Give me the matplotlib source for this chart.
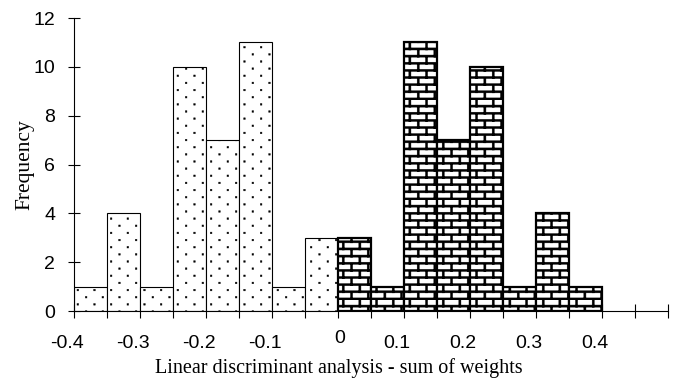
#!/usr/bin/env python3
"""Histogram of the LDA sum of weights, dotted (negative) vs brick (positive) groups."""

import matplotlib
matplotlib.use("Agg")
import matplotlib.hatch as mhatch
import matplotlib.pyplot as plt
from matplotlib.path import Path as MPath
from matplotlib.transforms import ScaledTranslation


BIN_WIDTH = 0.05
NEG_BINS = [-0.40, -0.35, -0.30, -0.25, -0.20, -0.15, -0.10, -0.05]
NEG_FREQ = [1, 4, 1, 10, 7, 11, 1, 3]
POS_BINS = [0.00, 0.05, 0.10, 0.15, 0.20, 0.25, 0.30, 0.35]
POS_FREQ = [3, 1, 11, 7, 10, 1, 4, 1]

X_LABEL_POS = [-0.4, -0.3, -0.2, -0.1, 0.0, 0.1, 0.2, 0.3, 0.4]
X_LABELS = ["-0.4", "-0.3", "-0.2", "-0.1", "0", "0.1", "0.2", "0.3", "0.4"]
X_MINOR = [-0.35, -0.25, -0.15, -0.05, 0.05, 0.15, 0.25, 0.35, 0.45, 0.5]
Y_TICKS = [0, 2, 4, 6, 8, 10, 12]

SANS = ["Liberation Sans", "DejaVu Sans"]
SERIF = ["Liberation Serif", "DejaVu Serif"]


# custom hatches: '.' -> staggered sparse dots, '+' -> brick wall
def rect_path(x, y, w, h):
  return [(x, y), (x + w, y), (x + w, y + h), (x, y + h), (x, y)]


RECT_CODES = [MPath.MOVETO, MPath.LINETO, MPath.LINETO, MPath.LINETO, MPath.CLOSEPOLY]


class RectHatch(mhatch.HatchPatternBase):
  char = ""

  def __init__(self, hatch, density):
    self.rects = self.make_rects() if self.char in hatch else []
    self.num_vertices = 5 * len(self.rects)

  def make_rects(self):
    return []

  def set_vertices_and_codes(self, vertices, codes):
    for i, rect in enumerate(self.rects):
      vertices[5 * i:5 * i + 5] = rect_path(*rect)
      codes[5 * i:5 * i + 5] = RECT_CODES


class DotHatch(RectHatch):
  char = "."

  def make_rects(self):
    rows, cols, s = 14, 6, 0.016
    out = []
    for r in range(rows):
      shift = 0.0 if r % 2 == 0 else 0.5 / cols
      for c in range(cols):
        out.append((c / cols + shift + 0.02, r / rows + 0.02, s, s))
    return out


class BrickHatch(RectHatch):
  char = "+"

  def make_rects(self):
    rows, cols, t = 14, 6, 0.021
    out = []
    for r in range(rows):
      y0 = r / rows
      out.append((0.0, y0, 1.0, t))
      shift = 0.0 if r % 2 == 0 else 0.5 / cols
      for c in range(cols):
        out.append((c / cols + shift + 0.005, y0, t, 1.0 / rows))
    return out


mhatch._hatch_types = [DotHatch, BrickHatch]
plt.rcParams["hatch.linewidth"] = 0.3


fig = plt.figure(figsize=(6.76, 3.79), dpi=100)
ax = fig.add_axes([0.1095, 0.1794, 0.8787, 0.7731])

ax.bar(NEG_BINS, NEG_FREQ, width=BIN_WIDTH, align="edge", facecolor="white",
       edgecolor="black", linewidth=0.8, hatch=".", zorder=2)
ax.bar(POS_BINS, POS_FREQ, width=BIN_WIDTH, align="edge", facecolor="white",
       edgecolor="black", linewidth=1.6, hatch="+", zorder=2)

ax.set_xlim(-0.4, 0.5)
ax.set_ylim(0, 12)
for side in ["top", "right"]:
  ax.spines[side].set_visible(False)
for side in ["left", "bottom"]:
  ax.spines[side].set_linewidth(0.8)
  ax.spines[side].set_zorder(3)

ax.set_yticks(Y_TICKS)
ax.set_yticklabels([str(v) for v in Y_TICKS], family=SANS, fontsize=14)
ax.tick_params(axis="y", direction="inout", length=8, width=0.8, pad=9.5)

ax.set_xticks(X_LABEL_POS)
ax.set_xticks(X_MINOR, minor=True)
ax.set_xticklabels([])
ax.tick_params(axis="x", which="both", direction="inout", length=10, width=0.8)

# x labels sit a little left of their ticks, the "0" is raised
for pos, text in zip(X_LABEL_POS, X_LABELS, strict=True):
  dx, dy = (-0.07, -0.24) if text != "0" else (0.02, -0.185)
  ax.text(pos, 0, text, ha="center", va="top", family=SANS, fontsize=14,
          transform=ax.get_xaxis_transform()
          + ScaledTranslation(dx, dy, fig.dpi_scale_trans))

ax.set_ylabel("Frequency", family=SERIF, fontsize=15.5)
ax.yaxis.set_label_coords(-0.067, 0.5)
ax.set_xlabel("Linear discriminant analysis - sum of weights", family=SERIF,
              fontsize=14.5)
ax.xaxis.set_label_coords(0.446, -0.16)

fig.savefig("out.png", dpi=100)
plt.close(fig)
